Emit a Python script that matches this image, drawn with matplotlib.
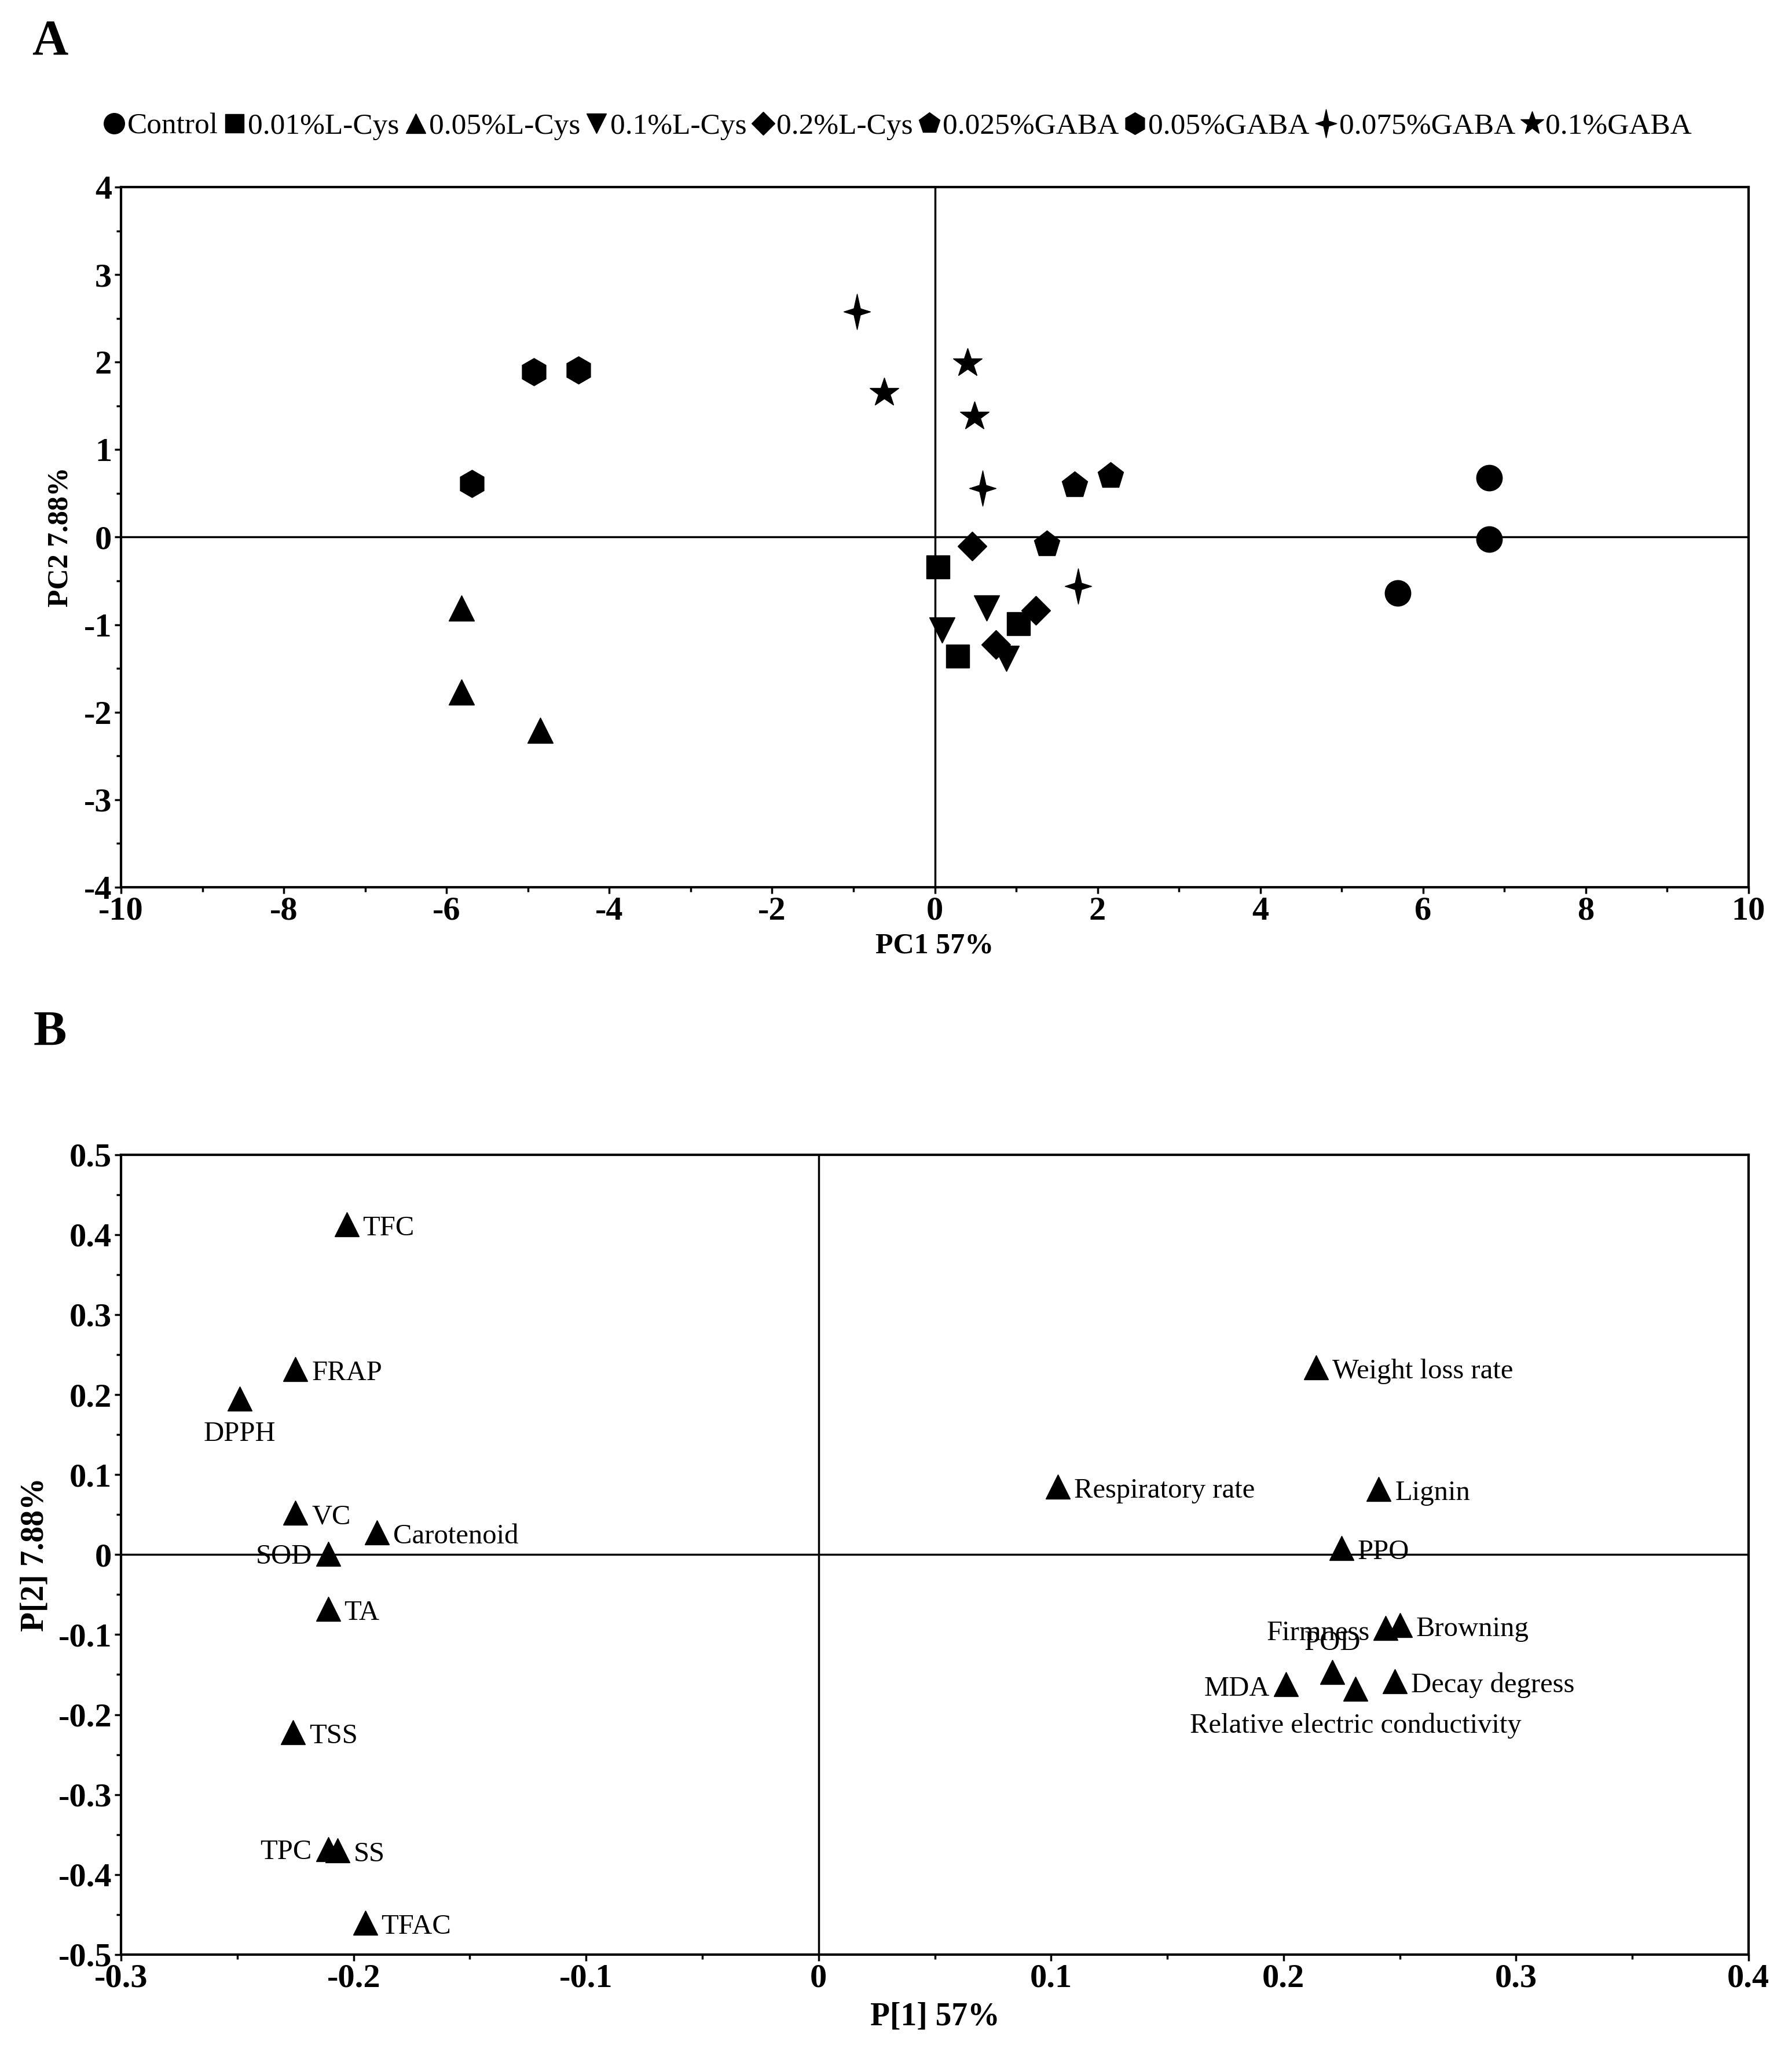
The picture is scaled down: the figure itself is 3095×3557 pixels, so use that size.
import numpy as np
import matplotlib.pyplot as plt
from matplotlib.path import Path
from matplotlib.ticker import MultipleLocator, FuncFormatter

plt.rcParams['font.family'] = ['Liberation Serif', 'DejaVu Serif']
plt.rcParams['axes.unicode_minus'] = False

# score plot data (panel A)
groups = ['Control', '0.01%L-Cys', '0.05%L-Cys', '0.1%L-Cys', '0.2%L-Cys',
          '0.025%GABA', '0.05%GABA', '0.075%GABA', '0.1%GABA']
pc1 = [[6.81, 6.81, 5.69],
       [0.04, 0.28, 1.03],
       [-5.82, -5.82, -4.85],
       [0.09, 0.64, 0.88],
       [0.46, 1.24, 0.75],
       [1.72, 2.16, 1.38],
       [-4.93, -4.38, -5.69],
       [-0.96, 0.59, 1.76],
       [-0.62, 0.40, 0.49]]
pc2 = [[0.68, -0.02, -0.64],
       [-0.34, -1.36, -0.99],
       [-0.81, -1.77, -2.21],
       [-1.06, -0.81, -1.39],
       [-0.10, -0.84, -1.23],
       [0.59, 0.70, -0.08],
       [1.89, 1.91, 0.61],
       [2.58, 0.56, -0.56],
       [1.65, 1.99, 1.38]]

# loading plot data (panel B)
variables = ['TFC', 'FRAP', 'DPPH', 'VC', 'Carotenoid', 'SOD', 'TA', 'TSS',
             'TPC', 'SS', 'TFAC', 'Weight loss rate', 'Respiratory rate',
             'Lignin', 'PPO', 'Firmness', 'Browning', 'POD', 'MDA',
             'Relative electric conductivity', 'Decay degress']
p1 = [-0.203, -0.225, -0.249, -0.225, -0.190, -0.211, -0.211, -0.226,
      -0.211, -0.207, -0.195, 0.214, 0.103, 0.241, 0.225, 0.244, 0.250,
      0.221, 0.201, 0.231, 0.248]
p2 = [0.413, 0.232, 0.195, 0.052, 0.028, 0.001, -0.068, -0.222,
      -0.368, -0.370, -0.460, 0.234, 0.085, 0.082, 0.008, -0.092, -0.088,
      -0.147, -0.162, -0.168, -0.158]

# label placement: (dx, dy) in points, horizontal alignment
label_pos = {
    'DPPH': (0, -44, 'center'),
    'SOD': (-20, -4, 'right'),
    'TPC': (-20, -4, 'right'),
    'Firmness': (-20, -6, 'right'),
    'MDA': (-20, -6, 'right'),
    'POD': (0, 36, 'center'),
    'Relative electric conductivity': (0, -46, 'center'),
}

# four pointed star marker
star4 = Path([(0, 1), (0.18, 0.18), (0.75, 0), (0.18, -0.18), (0, -1),
              (-0.18, -0.18), (-0.75, 0), (-0.18, 0.18), (0, 1)],
             [Path.MOVETO] + [Path.LINETO] * 7 + [Path.CLOSEPOLY])
markers = ['o', 's', '^', 'v', 'D', 'p', 'h', star4, '*']
msizes = [32, 29, 31, 31, 25, 34, 34, 44, 38]


def tick_fmt(v, pos):
    v = round(v, 6)
    return '0' if v == 0 else '%g' % v


fig = plt.figure(figsize=(30.95, 35.57), dpi=100)
axA = fig.add_axes([0.0676, 0.5694, 0.9081, 0.3397])
axB = fig.add_axes([0.0676, 0.0512, 0.9081, 0.3883])

for name, xs, ys, m, ms in zip(groups, pc1, pc2, markers, msizes):
    axA.plot(xs, ys, linestyle='none', marker=m, markersize=ms,
             color='black', label=name)

axA.axhline(0, color='black', lw=2.5, zorder=0)
axA.axvline(0, color='black', lw=2.5, zorder=0)
axA.set_xlim(-10, 10)
axA.set_ylim(-4, 4)
axA.xaxis.set_major_locator(MultipleLocator(2))
axA.xaxis.set_minor_locator(MultipleLocator(1))
axA.yaxis.set_major_locator(MultipleLocator(1))
axA.yaxis.set_minor_locator(MultipleLocator(0.5))
axA.set_xlabel('PC1 57%', fontsize=36, fontweight='bold', labelpad=8)
axA.set_ylabel('PC2 7.88%', fontsize=36, fontweight='bold', labelpad=12)

leg = fig.legend(loc='center', bbox_to_anchor=(0.5, 0.9386), ncol=9,
                 frameon=False, fontsize=37, handletextpad=0.0,
                 columnspacing=0.1, handlelength=0.9, markerscale=0.8)

axB.plot(p1, p2, linestyle='none', marker='^', markersize=30, color='black')
for name, x, y in zip(variables, p1, p2):
    dx, dy, ha = label_pos.get(name, (20, -5, 'left'))
    axB.annotate(name, (x, y), xytext=(dx, dy), textcoords='offset points',
                 ha=ha, va='center', fontsize=35)

axB.axhline(0, color='black', lw=2.5, zorder=0)
axB.axvline(0, color='black', lw=2.5, zorder=0)
axB.set_xlim(-0.3, 0.4)
axB.set_ylim(-0.5, 0.5)
axB.xaxis.set_major_locator(MultipleLocator(0.1))
axB.xaxis.set_minor_locator(MultipleLocator(0.05))
axB.yaxis.set_major_locator(MultipleLocator(0.1))
axB.yaxis.set_minor_locator(MultipleLocator(0.05))
axB.set_xlabel('P[1] 57%', fontsize=40, fontweight='bold', labelpad=10)
axB.set_ylabel('P[2] 7.88%', fontsize=40, fontweight='bold', labelpad=10)

for ax in (axA, axB):
    ax.xaxis.set_major_formatter(FuncFormatter(tick_fmt))
    ax.yaxis.set_major_formatter(FuncFormatter(tick_fmt))
    for s in ax.spines.values():
        s.set_linewidth(3)
    ax.tick_params(which='both', direction='out', width=2.5,
                   labelsize=42)
    ax.tick_params(which='major', length=8)
    ax.tick_params(which='minor', length=6)
    for lab in ax.get_xticklabels() + ax.get_yticklabels():
        lab.set_fontweight('bold')

fig.text(0.028, 0.9795, 'A', fontsize=62, fontweight='bold',
         ha='center', va='center')
fig.text(0.028, 0.4984, 'B', fontsize=62, fontweight='bold',
         ha='center', va='center')

fig.savefig('out.png', dpi=100)
